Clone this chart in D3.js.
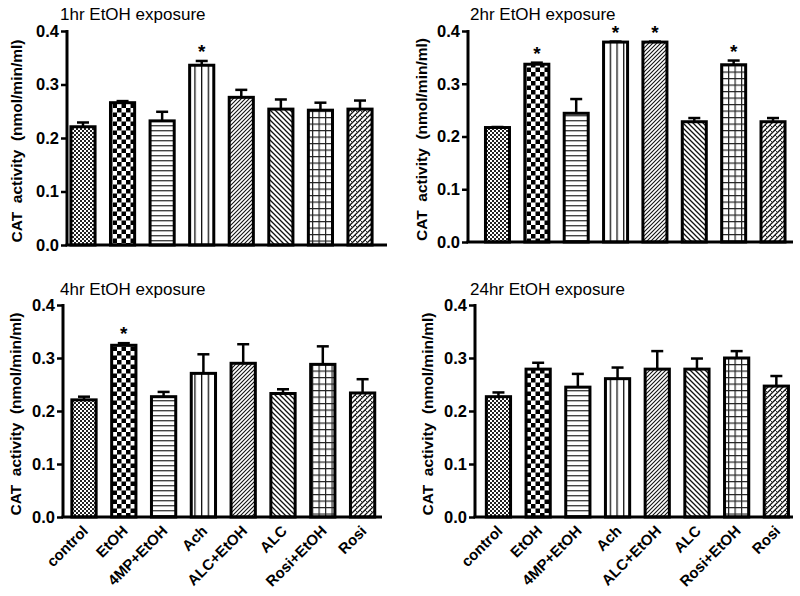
<!DOCTYPE html>
<html><head><meta charset="utf-8">
<script src="https://cdn.jsdelivr.net/npm/d3@7"></script>
<style>body{margin:0;background:#fff}svg{display:block}text{font-family:Arial,"Liberation Sans",sans-serif}</style>
</head><body><svg id="c" width="800" height="596"></svg>
<script>
const categories = ["control","EtOH","4MP+EtOH","Ach","ALC+EtOH","ALC","Rosi+EtOH","Rosi"];
const titles = ["1hr EtOH exposure","2hr EtOH exposure","4hr EtOH exposure","24hr EtOH exposure"];
const yTicks = [0.0,0.1,0.2,0.3,0.4];
const mean1h = [0.221,0.266,0.232,0.336,0.276,0.254,0.252,0.254];
const err1h  = [0.008,0.003,0.017,0.008,0.014,0.018,0.014,0.016];
const sig1h  = [0,0,0,1,0,0,0,0];
const mean2h = [0.217,0.337,0.244,0.379,0.379,0.228,0.336,0.228];
const err2h  = [0.001,0.003,0.027,0.001,0.001,0.007,0.008,0.007];
const sig2h  = [0,1,0,1,1,0,1,0];
const mean4h = [0.221,0.324,0.227,0.271,0.290,0.233,0.288,0.234];
const err4h  = [0.006,0.004,0.009,0.036,0.036,0.008,0.034,0.026];
const sig4h  = [0,1,0,0,0,0,0,0];
const mean24h = [0.227,0.279,0.245,0.261,0.279,0.279,0.300,0.247];
const err24h  = [0.008,0.012,0.025,0.021,0.034,0.020,0.013,0.019];
const sig24h  = [0,0,0,0,0,0,0,0];
const yLabel = "CAT  activity  (nmol/min/ml)";

const svg = d3.select("#c");
const defs = svg.append("defs");
function pat(id,w,h,draw){const p=defs.append("pattern").attr("id",id).attr("patternUnits","userSpaceOnUse").attr("width",w).attr("height",h);
  p.append("rect").attr("width",w).attr("height",h).attr("fill","#fff");draw(p);}
pat("p0",4,4,p=>{p.append("rect").attr("width",2).attr("height",2).attr("fill","#222");p.append("rect").attr("x",2).attr("y",2).attr("width",2).attr("height",2).attr("fill","#222");});
pat("p1",9,9,p=>{p.append("rect").attr("width",4.5).attr("height",4.5).attr("fill","#000");p.append("rect").attr("x",4.5).attr("y",4.5).attr("width",4.5).attr("height",4.5).attr("fill","#000");});
pat("p2",5,5,p=>{p.append("rect").attr("y",0).attr("width",5).attr("height",1.4).attr("fill","#444");});
pat("p3",6.7,6,p=>{p.append("rect").attr("x",0).attr("width",1.3).attr("height",6).attr("fill","#111");});
pat("p4",4,4,p=>{p.append("path").attr("d","M-1,5 L5,-1 M-1,1 L1,-1 M3,5 L5,3").attr("stroke","#111").attr("stroke-width",1.1);});
pat("p5",5,5,p=>{p.append("path").attr("d","M-1,-1 L6,6 M-1,4 L1,6 M4,-1 L6,1").attr("stroke","#111").attr("stroke-width",1.3);});
pat("p6",6.5,6.5,p=>{p.append("rect").attr("width",6.5).attr("height",1.2).attr("fill","#222");p.append("rect").attr("width",1.2).attr("height",6.5).attr("fill","#222");});
pat("p7",5,5,p=>{p.append("path").attr("d","M-1,6 L6,-1 M-1,1 L1,-1 M4,6 L6,4").attr("stroke","#111").attr("stroke-width",1.3);
  p.append("path").attr("d","M0,0 L2.5,2.5").attr("stroke","#333").attr("stroke-width",1);});

const panels = [
 {mean:mean1h,err:err1h,sig:sig1h,title:titles[0],ax:67,yT:31,yB:245,xE:387,bx:[63.2,379.8],tx:60,ty:20,lx:16},
 {mean:mean2h,err:err2h,sig:sig2h,title:titles[1],ax:468,yT:31,yB:242,xE:793,bx:[477.8,792.7],tx:470,ty:20,lx:421},
 {mean:mean4h,err:err4h,sig:sig4h,title:titles[2],ax:63,yT:305,yB:517,xE:382,bx:[64.1,382.5],tx:60,ty:295,lx:15,xl:true},
 {mean:mean24h,err:err24h,sig:sig24h,title:titles[3],ax:475,yT:305,yB:517,xE:793,bx:[478.6,796.2],tx:470,ty:295,lx:427,xl:true}
];

panels.forEach(P=>{
  const g = svg.append("g");
  const y = d3.scaleLinear().domain([0,0.4]).range([P.yB,P.yT]);
  const x = d3.scaleBand().domain(categories).range(P.bx).paddingInner(0.39).paddingOuter(0.195);
  g.append("text").attr("x",P.tx).attr("y",P.ty).attr("font-size",17).text(P.title);
  g.append("text").attr("transform",`translate(${P.lx},${(P.yT+P.yB)/2+3}) rotate(-90)`).attr("text-anchor","middle")
   .attr("dominant-baseline","central").attr("font-size",15.5).attr("font-weight","bold").style("white-space","pre").text(yLabel);
  categories.forEach((c,i)=>{
    const cx = x(c)+x.bandwidth()/2, v=P.mean[i], e=P.err[i];
    g.append("line").attr("x1",cx).attr("x2",cx).attr("y1",y(v)).attr("y2",y(v+e)).attr("stroke","#000").attr("stroke-width",2.5);
    g.append("line").attr("x1",cx-6).attr("x2",cx+6).attr("y1",y(v+e)).attr("y2",y(v+e)).attr("stroke","#000").attr("stroke-width",2.5);
    g.append("rect").attr("x",x(c)).attr("y",y(v)).attr("width",x.bandwidth()).attr("height",y(0)-y(v))
     .attr("fill",`url(#p${i})`).attr("stroke","#000").attr("stroke-width",3);
    if(P.sig[i]) g.append("text").attr("x",cx).attr("y",y(v+e)-3).attr("text-anchor","middle").attr("font-size",19).attr("font-weight","bold").text("*");
  });
  const ya = g.append("g").attr("transform",`translate(${P.ax},0)`)
    .call(d3.axisLeft(y).tickValues(yTicks).tickFormat(d3.format(".1f")).tickSize(6).tickSizeOuter(0));
  ya.select(".domain").attr("stroke-width",3).attr("d",`M0,${P.yT-1}V${P.yB}`);
  ya.selectAll(".tick line").attr("stroke-width",2.5);
  ya.selectAll(".tick text").attr("font-size",16.5).attr("font-weight","bold").attr("font-family","Arial,'Liberation Sans',sans-serif").attr("fill","#000").attr("x",-8);
  g.append("line").attr("x1",P.ax-1.5).attr("x2",P.xE).attr("y1",P.yB).attr("y2",P.yB).attr("stroke","#000").attr("stroke-width",3);
  if(P.xl){
    categories.forEach(c=>{
      const cx = x(c)+x.bandwidth()/2;
      g.append("text").attr("transform",`translate(${cx-3},${P.yB+7}) rotate(-45)`).attr("text-anchor","end")
       .attr("dominant-baseline","hanging").attr("font-size",15).attr("font-weight","bold").text(c);
    });
  }
});
</script></body></html>
